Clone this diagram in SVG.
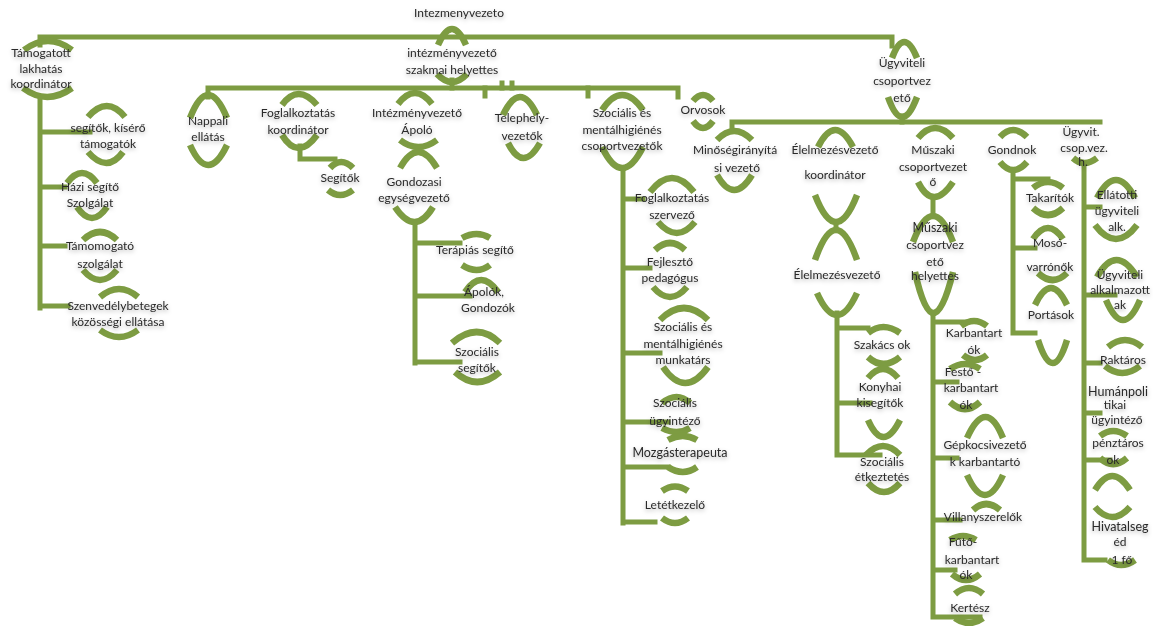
<svg xmlns="http://www.w3.org/2000/svg" width="1157" height="626" viewBox="0 0 1157 626">
<defs>
<style>
.a{fill:none;stroke:#7d9c42;stroke-width:6.5;stroke-linecap:butt}
.l{fill:none;stroke:#7d9c42;stroke-width:5;stroke-linecap:square}
.t{font-family:Lato,"Liberation Sans",sans-serif;font-size:12px;fill:#2a2a2a;text-anchor:middle}
</style>
<filter id="sh" x="-20%" y="-40%" width="140%" height="180%">
<feDropShadow dx="0" dy="2" stdDeviation="2" flood-color="#000" flood-opacity="0.3"/>
</filter>
</defs>
<rect width="1157" height="626" fill="#fff"/>

<g id="connectors">
<path class="l" d="M40 45 V37 H892 V46"/>
<path class="l" d="M452 80 V88"/>
<path class="l" d="M208 97 V88 H678 V97"/>
<path class="l" d="M485 88 V96 M502 88 V83 M512 88 V83 M588 88 V96"/>
<path class="l" d="M902 116 V122"/>
<path class="l" d="M732 131 V122 H1100"/>
<path class="l" d="M40 97 V308 M40 132 H90 M40 187 H65 M40 246 H65 M40 306 H68"/>
<path class="l" d="M300 146 V159 H335"/>
<path class="l" d="M415 222 V363 M415 243 H460 M415 296 H470 M415 362 H460"/>
<path class="l" d="M623 168 V523 M623 199 H643 M623 268 H650 M623 353 H660 M623 422 H668 M623 467 H668 M623 522 H655"/>
<path class="l" d="M836 222 V230"/>
<path class="l" d="M837 313 V455 M837 328 H868 M837 403 H870 M837 455 H880"/>
<path class="l" d="M933 197 V216"/>
<path class="l" d="M933 313 V617 M933 322 H967 M933 382 H957 M933 458 H957 M933 520 H960 M933 570 H955 M933 617 H980"/>
<path class="l" d="M1013 170 V333 M1013 179 H1048 M1013 248 H1035 M1013 333 H1035"/>
<path class="l" d="M1084 163 V560 M1084 207 H1100 M1084 295 H1115 M1084 363 H1100 M1084 413 H1100 M1084 460 H1110 M1084 560 H1105"/>
</g>

<g id="intezmenyvezeto">
<text class="t" x="459" y="17" filter="url(#sh)">Intezmenyvezeto</text>
</g>

<g id="szakmai-helyettes">
<path class="a" d="M438 45 Q452 13 466 45"/>
<path class="a" d="M437 74 Q452 90 467 74"/>
<text class="t" x="452" y="57" filter="url(#sh)">intézményvezető</text>
<text class="t" x="452" y="74" filter="url(#sh)">szakmai helyettes</text>
</g>

<g id="ugyviteli-csoportvezeto">
<path class="a" d="M892 58 Q904 26 917 58"/>
<path class="a" d="M888 97 Q902 137 917 97"/>
<text class="t" x="902" y="67" filter="url(#sh)">Ügyviteli</text>
<text class="t" x="902" y="85" filter="url(#sh)">csoportvez</text>
<text class="t" x="902" y="102" filter="url(#sh)">ető</text>
</g>

<g id="tamogatott">
<path class="a" d="M24 50 Q48 32 72 50"/>
<path class="a" d="M23 88 Q47 106 72 88"/>
<text class="t" x="41" y="57" filter="url(#sh)">Támogatott</text>
<text class="t" x="41" y="73" filter="url(#sh)">lakhatás</text>
<text class="t" x="41" y="88" filter="url(#sh)">koordinátor</text>
</g>

<g id="segitok-kisero">
<path class="a" d="M88 117 Q107 95 125 117"/>
<path class="a" d="M88 152 Q107 174 123 152"/>
<text class="t" x="108" y="132" filter="url(#sh)">segítők, kísérő</text>
<text class="t" x="108" y="148" filter="url(#sh)">támogatók</text>
</g>

<g id="hazi-segito">
<path class="a" d="M67 183 Q82 163 97 183"/>
<path class="a" d="M77 207 Q92 229 107 207"/>
<text class="t" x="90" y="191" filter="url(#sh)">Házi segítő</text>
<text class="t" x="90" y="207" filter="url(#sh)">Szolgálat</text>
</g>

<g id="tamomogato">
<path class="a" d="M83 240 Q100 224 117 240"/>
<path class="a" d="M83 270 Q100 290 117 270"/>
<text class="t" x="100" y="250" filter="url(#sh)">Támomogató</text>
<text class="t" x="100" y="268" filter="url(#sh)">szolgálat</text>
</g>

<g id="szenvedelybetegek">
<path class="a" d="M100 297 Q119 281 138 297"/>
<path class="a" d="M100 330 Q119 344 138 330"/>
<text class="t" x="118" y="310" filter="url(#sh)">Szenvedélybetegek</text>
<text class="t" x="118" y="326" filter="url(#sh)">közösségi ellátása</text>
</g>

<g id="nappali">
<path class="a" d="M190 118 Q208 72 227 118"/>
<path class="a" d="M190 145 Q208 185 227 145"/>
<text class="t" x="208" y="125" filter="url(#sh)">Nappali</text>
<text class="t" x="208" y="141" filter="url(#sh)">ellátás</text>
</g>

<g id="foglalkoztatas-koordinator">
<path class="a" d="M282 105 Q298 83 317 105"/>
<path class="a" d="M282 135 Q298 161 317 135"/>
<text class="t" x="298" y="117" filter="url(#sh)">Foglalkoztatás</text>
<text class="t" x="298" y="134" filter="url(#sh)">koordinátor</text>
</g>

<g id="segitok">
<path class="a" d="M330 168 Q341 156 353 168"/>
<path class="a" d="M328 190 Q340 200 353 190"/>
<text class="t" x="340" y="182" filter="url(#sh)">Segítők</text>
</g>

<g id="apolo">
<path class="a" d="M398 104 Q415 82 432 104"/>
<path class="a" d="M400 140 Q418 154 437 140"/>
<text class="t" x="417" y="117" filter="url(#sh)">Intézményvezető</text>
<text class="t" x="417" y="134" filter="url(#sh)">Ápoló</text>
</g>

<g id="gondozasi">
<path class="a" d="M400 168 Q418 136 437 168"/>
<path class="a" d="M395 207 Q415 237 433 207"/>
<text class="t" x="414" y="186" filter="url(#sh)">Gondozasi</text>
<text class="t" x="414" y="202" filter="url(#sh)">egységvezető</text>
</g>

<g id="terapias">
<path class="a" d="M462 238 Q477 230 490 238"/>
<path class="a" d="M462 265 Q477 275 490 265"/>
<text class="t" x="475" y="254" filter="url(#sh)">Terápiás segítő</text>
</g>

<g id="apolok">
<path class="a" d="M465 292 Q481 268 498 292"/>
<text class="t" x="484" y="296" filter="url(#sh)">Ápolók,</text>
<text class="t" x="488" y="312" filter="url(#sh)">Gondozók</text>
</g>

<g id="szocialis-segitok">
<path class="a" d="M452 343 Q477 321 500 343"/>
<path class="a" d="M455 372 Q477 392 500 372"/>
<text class="t" x="477" y="356" filter="url(#sh)">Szociális</text>
<text class="t" x="477" y="372" filter="url(#sh)">segítők</text>
</g>

<g id="telephely">
<path class="a" d="M503 115 Q520 79 537 115"/>
<path class="a" d="M508 143 Q523 173 540 143"/>
<text class="t" x="522" y="122" filter="url(#sh)">Telephely-</text>
<text class="t" x="522" y="140" filter="url(#sh)">vezetők</text>
</g>

<g id="szocialis-csoportvezetok">
<path class="a" d="M602 110 Q622 80 643 110"/>
<path class="a" d="M602 147 Q622 189 643 147"/>
<text class="t" x="622" y="117" filter="url(#sh)">Szociális és</text>
<text class="t" x="622" y="134" filter="url(#sh)">mentálhigiénés</text>
<text class="t" x="622" y="150" filter="url(#sh)">csoportvezetők</text>
</g>

<g id="foglalkoztatas-szervezo">
<path class="a" d="M650 192 Q672 164 694 192"/>
<path class="a" d="M658 222 Q677 244 695 222"/>
<text class="t" x="672" y="202" filter="url(#sh)">Foglalkoztatás</text>
<text class="t" x="672" y="219" filter="url(#sh)">szervező</text>
</g>

<g id="fejleszto">
<path class="a" d="M655 250 Q670 236 685 250"/>
<path class="a" d="M653 287 Q670 307 687 287"/>
<text class="t" x="670" y="266" filter="url(#sh)">Fejlesztő</text>
<text class="t" x="670" y="282" filter="url(#sh)">pedagógus</text>
</g>

<g id="szocialis-munkatars">
<path class="a" d="M660 320 Q684 296 708 320"/>
<path class="a" d="M663 367 Q685 399 708 367"/>
<text class="t" x="683" y="331" filter="url(#sh)">Szociális és</text>
<text class="t" x="683" y="348" filter="url(#sh)">mentálhigiénés</text>
<text class="t" x="683" y="364" filter="url(#sh)">munkatárs</text>
</g>

<g id="szocialis-ugyintezo">
<path class="a" d="M662 403 Q677 391 690 403"/>
<path class="a" d="M662 428 Q677 436 690 428"/>
<text class="t" x="675" y="407" filter="url(#sh)">Szociális</text>
<text class="t" x="675" y="425" filter="url(#sh)">ügyintéző</text>
</g>

<g id="mozgasterapeuta">
<path class="a" d="M668 440 Q683 432 697 440"/>
<path class="a" d="M668 467 Q683 477 697 467"/>
<text class="t" x="680" y="457" style="font-size:12.5px" filter="url(#sh)">Mozgásterapeuta</text>
</g>

<g id="letetkezelo">
<path class="a" d="M662 491 Q675 482 688 491"/>
<path class="a" d="M662 518 Q675 528 688 518"/>
<text class="t" x="675" y="509" filter="url(#sh)">Letétkezelő</text>
</g>

<g id="orvosok">
<path class="a" d="M693 101 Q703 89 713 101"/>
<path class="a" d="M693 121 Q703 135 713 121"/>
<text class="t" x="703" y="114" filter="url(#sh)">Orvosok</text>
</g>

<g id="minosegiranyitasi">
<path class="a" d="M717 140 Q734 122 752 140"/>
<path class="a" d="M717 175 Q734 205 752 175"/>
<text class="t" x="735" y="154" filter="url(#sh)">Minőségirányítá</text>
<text class="t" x="737" y="172" filter="url(#sh)">si vezető</text>
</g>

<g id="elelmezes-koordinator">
<path class="a" d="M818 147 Q835 113 853 147"/>
<path class="a" d="M815 195 Q836 249 857 195"/>
<text class="t" x="835" y="154" filter="url(#sh)">Élelmezésvezető</text>
<text class="t" x="835" y="179" filter="url(#sh)">koordinátor</text>
</g>

<g id="elelmezesvezeto">
<path class="a" d="M815 260 Q836 200 857 260"/>
<path class="a" d="M817 293 Q837 337 857 293"/>
<text class="t" x="837" y="279" filter="url(#sh)">Élelmezésvezető</text>
</g>

<g id="szakacsok">
<path class="a" d="M868 333 Q883 321 900 333"/>
<path class="a" d="M868 357 Q883 371 900 357"/>
<text class="t" x="882" y="349" filter="url(#sh)">Szakács ok</text>
</g>

<g id="konyhai">
<path class="a" d="M868 378 Q883 360 898 378"/>
<path class="a" d="M868 420 Q883 454 900 420"/>
<text class="t" x="880" y="391" filter="url(#sh)">Konyhai</text>
<text class="t" x="880" y="407" filter="url(#sh)">kisegítők</text>
</g>

<g id="szocialis-etkeztetes">
<path class="a" d="M866 455 Q883 437 900 455"/>
<path class="a" d="M868 483 Q884 501 900 483"/>
<text class="t" x="882" y="466" filter="url(#sh)">Szociális</text>
<text class="t" x="882" y="481" filter="url(#sh)">étkeztetés</text>
</g>

<g id="muszaki-csoportvezeto">
<path class="a" d="M918 138 Q935 118 953 138"/>
<path class="a" d="M918 182 Q933 212 953 182"/>
<text class="t" x="933" y="154" filter="url(#sh)">Műszaki</text>
<text class="t" x="933" y="171" filter="url(#sh)">csoportvezet</text>
<text class="t" x="933" y="186" filter="url(#sh)">ő</text>
</g>

<g id="muszaki-helyettes">
<path class="a" d="M913 242 Q933 190 953 242"/>
<path class="a" d="M915 272 Q933 354 953 272"/>
<text class="t" x="935" y="232" style="font-size:12.5px" filter="url(#sh)">Műszaki</text>
<text class="t" x="935" y="249" filter="url(#sh)">csoportvez</text>
<text class="t" x="935" y="266" filter="url(#sh)">ető</text>
<text class="t" x="935" y="280" filter="url(#sh)">helyettes</text>
</g>

<g id="karbantartok">
<path class="a" d="M961 326 Q974 316 987 326"/>
<path class="a" d="M963 355 Q975 365 987 355"/>
<text class="t" x="974" y="337" filter="url(#sh)">Karbantart</text>
<text class="t" x="974" y="354" filter="url(#sh)">ók</text>
</g>

<g id="festo">
<path class="a" d="M950 369 Q965 359 980 369"/>
<path class="a" d="M950 402 Q965 416 980 402"/>
<text class="t" x="963" y="376" filter="url(#sh)">Festő -</text>
<text class="t" x="971" y="392" filter="url(#sh)">karbantart</text>
<text class="t" x="966" y="409" filter="url(#sh)">ók</text>
</g>

<g id="gepkocsivezetok">
<path class="a" d="M967 438 Q986 396 1003 438"/>
<path class="a" d="M967 475 Q985 515 1003 475"/>
<text class="t" x="985" y="449" filter="url(#sh)">Gépkocsivezető</text>
<text class="t" x="985" y="466" filter="url(#sh)">k karbantartó</text>
</g>

<g id="villanyszerelok">
<path class="a" d="M973 510 Q986 498 1000 510"/>
<text class="t" x="983" y="521" filter="url(#sh)">Villanyszerelők</text>
</g>

<g id="futo">
<path class="a" d="M950 540 Q963 532 976 540"/>
<path class="a" d="M952 574 Q966 586 980 574"/>
<text class="t" x="963" y="546" filter="url(#sh)">Fűtő-</text>
<text class="t" x="972" y="564" filter="url(#sh)">karbantart</text>
<text class="t" x="966" y="579" filter="url(#sh)">ók</text>
</g>

<g id="kertesz">
<path class="a" d="M955 594 Q969 582 983 594"/>
<path class="a" d="M955 618 Q969 628 983 618"/>
<text class="t" x="970" y="612" filter="url(#sh)">Kertész</text>
</g>

<g id="gondnok">
<path class="a" d="M1000 137 Q1013 123 1027 137"/>
<path class="a" d="M1000 162 Q1013 178 1027 162"/>
<text class="t" x="1012" y="154" filter="url(#sh)">Gondnok</text>
</g>

<g id="takaritok">
<path class="a" d="M1033 188 Q1048 176 1063 188"/>
<path class="a" d="M1033 208 Q1048 222 1063 208"/>
<text class="t" x="1050" y="202" filter="url(#sh)">Takarítók</text>
</g>

<g id="moso-varronok">
<path class="a" d="M1033 239 Q1048 217 1063 239"/>
<path class="a" d="M1038 273 Q1053 287 1067 273"/>
<text class="t" x="1050" y="247" filter="url(#sh)">Mosó-</text>
<text class="t" x="1050" y="271" filter="url(#sh)">varrónők</text>
</g>

<g id="portasok">
<path class="a" d="M1035 305 Q1051 271 1067 305"/>
<path class="a" d="M1038 340 Q1053 386 1067 340"/>
<text class="t" x="1051" y="319" filter="url(#sh)">Portások</text>
</g>

<g id="ugyvit-csop-vez-h">
<path class="a" d="M1073 158 Q1084 168 1097 158"/>
<text class="t" x="1081" y="136" filter="url(#sh)">Ügyvit.</text>
<text class="t" x="1084" y="152" filter="url(#sh)">csop.vez.</text>
<text class="t" x="1083" y="166" filter="url(#sh)">h.</text>
</g>

<g id="ellatotti">
<path class="a" d="M1097 198 Q1116 162 1135 198"/>
<path class="a" d="M1095 225 Q1116 253 1137 225"/>
<text class="t" x="1117" y="199" filter="url(#sh)">Ellátotti</text>
<text class="t" x="1117" y="215" filter="url(#sh)">ügyviteli</text>
<text class="t" x="1117" y="231" filter="url(#sh)">alk.</text>
</g>

<g id="ugyviteli-alkalmazottak">
<path class="a" d="M1097 277 Q1116 243 1137 277"/>
<path class="a" d="M1106 300 Q1123 340 1140 300"/>
<text class="t" x="1120" y="279" filter="url(#sh)">Ügyviteli</text>
<text class="t" x="1120" y="294" filter="url(#sh)">alkalmazott</text>
<text class="t" x="1120" y="309" filter="url(#sh)">ak</text>
</g>

<g id="raktaros">
<path class="a" d="M1108 347 Q1125 333 1142 347"/>
<path class="a" d="M1105 366 Q1122 380 1140 366"/>
<text class="t" x="1123" y="364" filter="url(#sh)">Raktáros</text>
</g>

<g id="humanpolitikai">
<text class="t" x="1118" y="396" style="font-size:12.5px" filter="url(#sh)">Humánpoli</text>
<text class="t" x="1115" y="409" filter="url(#sh)">tikai</text>
<text class="t" x="1117" y="424" filter="url(#sh)">ügyintéző</text>
</g>

<g id="penztarosok">
<path class="a" d="M1100 436 Q1113 426 1127 436"/>
<path class="a" d="M1100 458 Q1113 470 1127 458"/>
<text class="t" x="1118" y="447" filter="url(#sh)">pénztáros</text>
<text class="t" x="1113" y="464" filter="url(#sh)">ok</text>
</g>

<g id="ures">
<path class="a" d="M1095 490 Q1112 462 1130 490"/>
<path class="a" d="M1095 507 Q1112 527 1130 507"/>
</g>

<g id="hivatalseged">
<path class="a" d="M1108 560 Q1121 570 1135 560"/>
<text class="t" x="1120" y="531" style="font-size:12.5px" filter="url(#sh)">Hivatalseg</text>
<text class="t" x="1120" y="546" filter="url(#sh)">éd</text>
<text class="t" x="1122" y="564" filter="url(#sh)">1 fő</text>
</g>
</svg>
